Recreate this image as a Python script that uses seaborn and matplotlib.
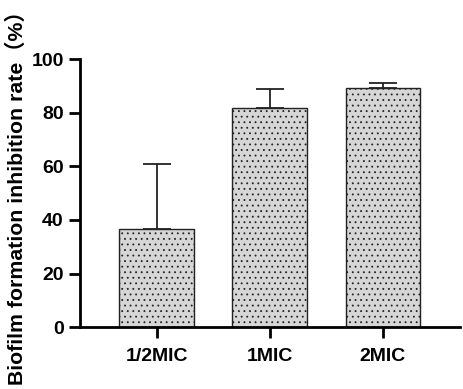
import numpy as np
import matplotlib
matplotlib.use('Agg')
import matplotlib.pyplot as plt
import seaborn as sns
import pandas as pd

# values
groups = ['1/2MIC', '1MIC', '2MIC']
rate = [36.8, 81.8, 89.2]
sd = [24.2, 7.0, 1.9]

df = pd.DataFrame({'group': groups, 'rate': rate})

sns.set_style('ticks')
plt.rcParams['font.family'] = ['Liberation Sans', 'Noto Sans CJK SC', 'DejaVu Sans']
plt.rcParams['hatch.linewidth'] = 0.6
plt.rcParams['text.color'] = 'black'
plt.rcParams['axes.labelcolor'] = 'black'

fig = plt.figure(figsize=(4.64, 3.89), dpi=100)
ax = fig.add_axes([0.172, 0.159, 0.819, 0.689])

sns.barplot(data=df, x='group', y='rate', ax=ax, color='#d6d6d6',
            width=0.66, errorbar=None, edgecolor='#222222', linewidth=1.0,
            hatch='...', saturation=1)

# upper error bars only
ax.errorbar(np.arange(len(groups)), rate, yerr=[np.zeros(len(sd)), sd],
            fmt='none', ecolor='#222222', elinewidth=1.3, capsize=10,
            capthick=1.3, zorder=0.5)

ax.set_ylim(0, 100)
ax.set_xlim(-0.68, 2.68)
ax.set_yticks([0, 20, 40, 60, 80, 100])
ax.set_xlabel('')
ax.set_ylabel('Biofilm formation inhibition rate（%）', fontsize=15.3,
              fontweight='bold', labelpad=3)
ax.tick_params(axis='both', width=2, length=8, labelsize=14, direction='out',
               colors='black')
ax.tick_params(axis='x', pad=7)
for lab in ax.get_xticklabels() + ax.get_yticklabels():
    lab.set_fontweight('bold')
for side in ['left', 'bottom']:
    ax.spines[side].set_linewidth(2)
    ax.spines[side].set_color('black')
sns.despine(ax=ax)

fig.savefig('out.png', dpi=100)
